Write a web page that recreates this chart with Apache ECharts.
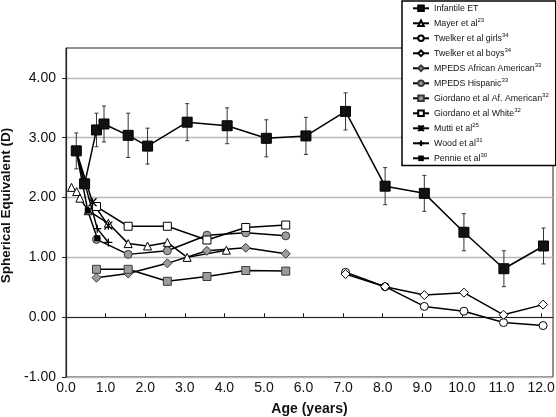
<!DOCTYPE html>
<html><head><meta charset="utf-8">
<script src="https://cdn.jsdelivr.net/npm/echarts@6/dist/echarts.min.js"></script>
<style>html,body{margin:0;padding:0;background:#fff}#c{width:556px;height:417px}</style>
</head><body><div id="c"></div>
<script>
// ---- data ----
const etAge = [0.26, 0.47, 0.77, 0.96, 1.57, 2.06, 3.06, 4.07, 5.06, 6.06, 7.06, 8.06, 9.05, 10.05, 11.06, 12.06];
const etSE  = [2.78, 2.23, 3.13, 3.23, 3.04, 2.86, 3.26, 3.20, 2.99, 3.03, 3.44, 2.19, 2.07, 1.42, 0.81, 1.19];
const etErr = [0.30, null, 0.28, 0.30, 0.37, 0.30, 0.31, 0.30, 0.31, 0.31, 0.31, 0.31, 0.30, 0.31, 0.30, 0.30];

const mayerAge = [0.14, 0.27, 0.35, 0.56, 1.07, 1.57, 2.06, 2.56, 3.06, 4.05];
const mayerSE  = [2.17, 2.10, 1.99, 1.78, 1.57, 1.23, 1.19, 1.25, 1.00, 1.12];

const twelkerAge = [7.06, 8.06, 9.05, 10.05, 11.05, 12.05];
const twelkerGirlsSE = [0.75, 0.51, 0.18, 0.10, -0.09, -0.14];
const twelkerBoysSE  = [0.72, 0.51, 0.37, 0.41, 0.04, 0.21];

const mpedsAge = [0.77, 1.57, 2.56, 3.56, 4.54, 5.55];
const mpedsAfAmSE    = [0.66, 0.73, 0.90, 1.11, 1.16, 1.06];
const mpedsHispSE    = [1.30, 1.05, 1.11, 1.37, 1.41, 1.36];
const giordanoAfAmSE = [0.80, 0.80, 0.60, 0.68, 0.78, 0.77];
const giordanoWhiteSE= [1.85, 1.52, 1.52, 1.29, 1.50, 1.54];

const muttiAge = [0.25, 0.67, 1.07];
const muttiSE  = [2.80, 1.92, 1.53];
const woodAge  = [0.25, 0.79, 1.07];
const woodSE   = [2.78, 1.48, 1.25];
const pennieAge = [0.25, 0.55, 0.79];
const pennieSE  = [2.80, 1.78, 1.32];

const yTicks = [-1, 0, 1, 2, 3, 4];
const xTicks = [0,1,2,3,4,5,6,7,8,9,10,11,12];

const legendNames = ['Infantile ET','Mayer et al','Twelker et al girls','Twelker et al boys','MPEDS African American','MPEDS Hispanic','Giordano et al Af. American','Giordano et al White','Mutti et al','Wood et al','Pennie et al'];
const legendRefs  = ['', '23', '34', '34', '33', '33', '32', '32', '25', '31', '30'];

// ---- chart ----
const FONT = 'Liberation Sans, Arial, sans-serif';
const zip = (a, b) => a.map((v, i) => [v, b[i]]);
const openStyle = {color:'#fff', borderColor:'#000', borderWidth:1};
const grayStyle = {color:'#9c9c9c', borderColor:'#3a3a3a', borderWidth:1};
const line = {color:'#000', width:1.5};

function mk(name, ages, vals, symbol, size, itemStyle, z) {
  return {name, type:'line', data: zip(ages, vals), symbol, symbolSize:size,
    itemStyle, lineStyle: line, z: z || 2, animation:false, emphasis:{disabled:true}};
}
const asterisk = 'path://M0,0L10,10M10,0L0,10M5,0L5,10';
const plus = 'path://M5,0L5,10M0,5L10,5';
const strokeOnly = {color:'#000', borderColor:'#000', borderWidth:1.3};

const errData = etAge.map((a, i) => [a, etSE[i], etErr[i]]).filter(d => d[2] != null);

const chart = echarts.init(document.getElementById('c'), null, {renderer:'canvas'});
chart.setOption({
  backgroundColor:'#fff',
  animation:false,
  textStyle:{fontFamily:FONT},
  grid:{left:66, right:3, top:48, bottom:40, show:true, borderColor:'#222', borderWidth:1,
    containLabel:false, outerBoundsMode:'none'},
  xAxis:{type:'value', min:0, max:12.3, interval:1,
    axisLine:{lineStyle:{color:'#222', width:1.2}},
    axisTick:{inside:true, length:4, lineStyle:{color:'#222'}, customValues: xTicks},
    axisLabel:{fontSize:14, color:'#111', margin:4, fontFamily:FONT,
      formatter: v => v > 12.1 ? '' : v.toFixed(1), customValues: xTicks},
    splitLine:{show:false},
    name:'Age (years)', nameLocation:'middle', nameGap:25,
    nameTextStyle:{fontSize:14, fontWeight:'bold', color:'#111', fontFamily:FONT}},
  yAxis:{type:'value', min:-1, max:4.5, interval:1,
    axisLine:{show:true, lineStyle:{color:'#222', width:1.2}},
    axisTick:{show:true, inside:false, length:4, lineStyle:{color:'#222'}, customValues: yTicks},
    axisLabel:{fontSize:14, color:'#111', margin:10, fontFamily:FONT,
      formatter: v => v > 4.2 ? '' : v.toFixed(2), customValues: yTicks},
    splitLine:{show:true, lineStyle:{color:'#b8b8b8', width:1.3}},
    name:'Spherical Equivalent (D)', nameLocation:'middle', nameGap:45,
    nameTextStyle:{fontSize:13.5, fontWeight:'bold', color:'#111', fontFamily:FONT, padding:[0,0,0,14]}},
  legend:{orient:'vertical', left:402, top:1, data: legendNames,
    backgroundColor:'#fff', borderColor:'#000', borderWidth:1.5, borderRadius:0,
    padding:[1,7,1,10], itemWidth:16, itemHeight:7, itemGap:2.4,
    selectedMode:false,
    formatter: name => {
      const r = legendRefs[legendNames.indexOf(name)];
      return r ? '{n|' + name + '}{s|' + r + '}' : '{n|' + name + '}';
    },
    textStyle:{fontFamily:FONT, color:'#111', fontSize:8.8, lineHeight:12.6,
      rich:{n:{fontSize:8.8, lineHeight:12.6, fontFamily:FONT, color:'#111'},
            s:{fontSize:6, lineHeight:7, verticalAlign:'top', fontFamily:FONT, color:'#111'}}}},
  series:[
    mk('Mayer et al', mayerAge, mayerSE, 'triangle', 8, openStyle),
    mk('Twelker et al girls', twelkerAge, twelkerGirlsSE, 'circle', 8, openStyle),
    mk('Twelker et al boys', twelkerAge, twelkerBoysSE, 'diamond', 9, openStyle),
    mk('MPEDS African American', mpedsAge, mpedsAfAmSE, 'diamond', 9, grayStyle),
    mk('MPEDS Hispanic', mpedsAge, mpedsHispSE, 'circle', 8, grayStyle),
    mk('Giordano et al Af. American', mpedsAge, giordanoAfAmSE, 'rect', 8, grayStyle),
    mk('Giordano et al White', mpedsAge, giordanoWhiteSE, 'rect', 8, openStyle),
    mk('Mutti et al', muttiAge, muttiSE, asterisk, 8, strokeOnly),
    mk('Wood et al', woodAge, woodSE, plus, 8, strokeOnly),
    mk('Pennie et al', pennieAge, pennieSE, 'rect', 6, {color:'#000'}),
    {type:'custom', name:'err', z:3, animation:false, data: errData,
      encode:{x:0, y:1},
      renderItem: (params, api) => {
        const x = api.value(0), y = api.value(1), e = api.value(2);
        const top = api.coord([x, y + e]), bot = api.coord([x, y - e]);
        const s = {stroke:'#333', lineWidth:1};
        return {type:'group', children:[
          {type:'line', shape:{x1:top[0], y1:top[1], x2:bot[0], y2:bot[1]}, style:s},
          {type:'line', shape:{x1:top[0]-2, y1:top[1], x2:top[0]+2, y2:top[1]}, style:s},
          {type:'line', shape:{x1:bot[0]-2, y1:bot[1], x2:bot[0]+2, y2:bot[1]}, style:s}
        ]};
      }},
    mk('Infantile ET', etAge, etSE, 'rect', 10, {color:'#111', borderColor:'#000', borderWidth:1}, 5)
  ]
});
</script></body></html>
